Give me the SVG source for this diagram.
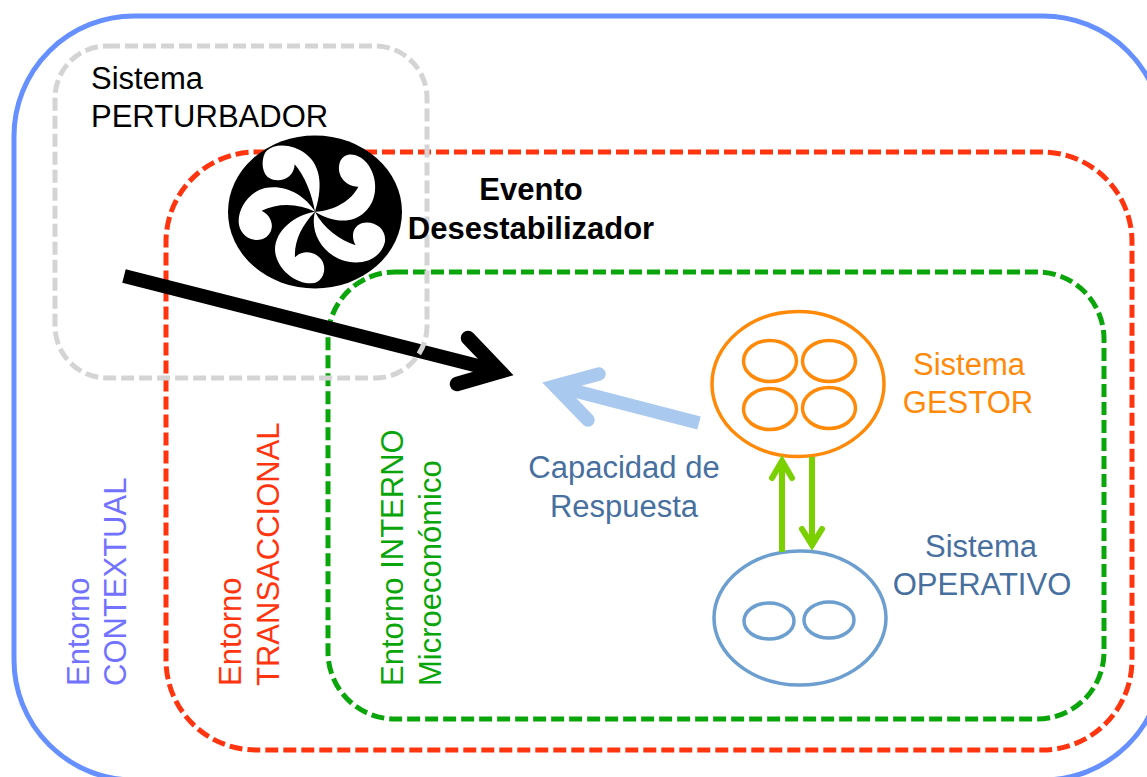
<svg xmlns="http://www.w3.org/2000/svg" width="1147" height="777" viewBox="0 0 1147 777">
<style>
text{font-family:"Liberation Sans",Arial,sans-serif;font-size:31px}
.box{fill:none;stroke-width:5}
.dash{stroke-dasharray:13 5}
.mid{text-anchor:middle}
.shaft{fill:none}
.head{fill:none;stroke-linecap:round;stroke-linejoin:miter;stroke-miterlimit:10}
.org{fill:none;stroke:#ff8a0a;stroke-width:3.500}
.op{fill:none;stroke:#6c9fd0;stroke-width:3.500}
.orgt{fill:#ff8a0a}
.opt{fill:#47709f}
</style>
<rect width="1147" height="777" fill="#fff"/>
<g id="entorno-contextual">
<rect class="box" x="14" y="16" width="1149" height="764" rx="120" ry="120" stroke="#6690ff"/>
<text transform="translate(89 686) rotate(-90)" fill="#7272ff">Entorno</text>
<text transform="translate(125.500 686) rotate(-90)" fill="#7272ff">CONTEXTUAL</text>
</g>
<g id="entorno-transaccional">
<rect class="box dash" x="166" y="152" width="966" height="598" rx="90" ry="90" stroke="#ff3510"/>
<text transform="translate(241 686) rotate(-90)" fill="#ff3510">Entorno</text>
<text transform="translate(279 686) rotate(-90)" fill="#ff3510">TRANSACCIONAL</text>
</g>
<g id="entorno-interno">
<rect class="box dash" x="328" y="272" width="776" height="447" rx="67" ry="67" stroke="#0aa50a"/>
<text transform="translate(403 686) rotate(-90)" fill="#0aa50a">Entorno INTERNO</text>
<text transform="translate(441 686) rotate(-90)" fill="#0aa50a">Microeconómico</text>
</g>
<g id="sistema-gestor">
<ellipse class="org" cx="798" cy="384" rx="86" ry="72.500"/>
<ellipse class="org" cx="770" cy="361" rx="26.500" ry="20.500"/>
<ellipse class="org" cx="829" cy="361" rx="26.500" ry="20.500"/>
<ellipse class="org" cx="770" cy="409" rx="26.500" ry="20.500"/>
<ellipse class="org" cx="829" cy="408" rx="26.500" ry="20.500"/>
<text class="mid orgt" x="969" y="375">Sistema</text>
<text class="mid orgt" x="968" y="413">GESTOR</text>
</g>
<g id="sistema-operativo">
<ellipse class="op" cx="800" cy="618" rx="86" ry="67"/>
<ellipse class="op" cx="769" cy="621" rx="25" ry="18"/>
<ellipse class="op" cx="829" cy="620" rx="25" ry="18"/>
<text class="mid opt" x="981" y="557">Sistema</text>
<text class="mid opt" x="982" y="595">OPERATIVO</text>
</g>
<g id="capacidad-respuesta">
<text class="mid opt" x="624" y="478">Capacidad de</text>
<text class="mid opt" x="624" y="517">Respuesta</text>
</g>
<g id="connectors">
<path class="shaft" stroke="#000" stroke-width="14" d="M124 276L498 371"/>
<path class="head" stroke="#000" stroke-width="14.500" d="M468 338L500 371.500L457 384"/>
<path class="shaft" stroke="#aac9ef" stroke-width="13.500" d="M699 423L556 386"/>
<path class="head" stroke="#aac9ef" stroke-width="13.500" d="M599 374L555 386L588 420"/>
<path class="shaft" stroke="#7ad000" stroke-width="6" d="M782 552V462"/>
<path class="head" stroke="#7ad000" stroke-width="6" d="M772 478L782 461L792 478"/>
<path class="shaft" stroke="#7ad000" stroke-width="6" d="M812 457V544"/>
<path class="head" stroke="#7ad000" stroke-width="6" d="M802 529L812 545L822 529"/>
</g>
<g id="sistema-perturbador">
<rect class="box dash" x="55" y="46" width="372" height="332" rx="52" ry="52" stroke="#d4d4d4"/>
<text x="91" y="89" fill="#000">Sistema</text>
<text x="91" y="127" fill="#000">PERTURBADOR</text>
</g>
<g id="evento-desestabilizador">
<ellipse cx="315" cy="212" rx="87" ry="76.500" fill="#000"/>
<g transform="translate(210 120) scale(.33333)" fill="#fff">
<path d="M315 275C335 215 340 140 285 100C250 72 195 68 170 92C155 108 152 150 172 170C200 192 252 180 254 133C285 170 305 220 315 275Z"/>
<path d="M315 275C365 305 425 315 465 275C505 240 505 170 470 128C445 100 405 92 390 125C378 160 400 198 445 200C425 240 375 272 315 275Z"/>
<path d="M315 275C300 330 330 395 395 420C445 438 510 425 525 365C530 325 490 300 455 310C428 320 422 350 437 376C390 360 340 325 315 275Z"/>
<path d="M315 275C255 285 195 330 195 390C197 440 250 492 305 490C340 488 352 445 335 420C315 392 275 390 255 412C252 365 275 315 315 275Z"/>
<path d="M315 275C285 225 225 192 165 204C110 218 80 275 87 315C95 355 140 372 170 350C195 330 190 290 155 272C205 248 265 250 315 275Z"/>
</g>
<text class="mid" x="531" y="200" font-weight="700" fill="#000">Evento</text>
<text class="mid" x="531" y="239" font-weight="700" fill="#000">Desestabilizador</text>
</g>
</svg>
